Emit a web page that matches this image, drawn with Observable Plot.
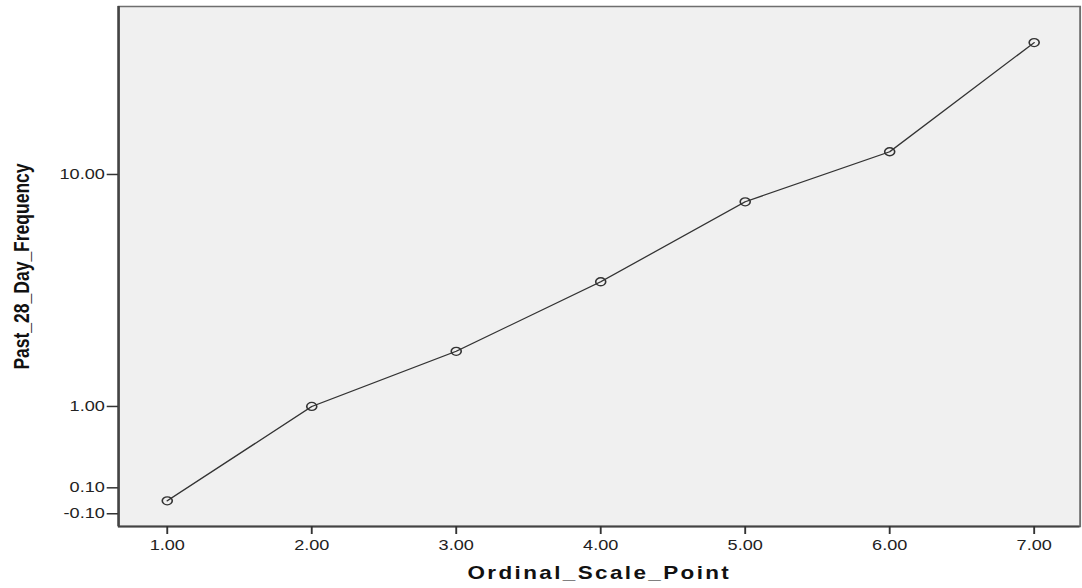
<!DOCTYPE html>
<html><head><meta charset="utf-8">
<script src="https://cdn.jsdelivr.net/npm/d3@7"></script>
<script src="https://cdn.jsdelivr.net/npm/@observablehq/plot@0.6"></script>
<style>body{margin:0;background:#fff;} #chart svg{display:block}</style>
</head><body><div id="chart"></div>
<script>
const scalePoints = [1, 2, 3, 4, 5, 6, 7];
const frequency = [0, 1, 2, 4, 8, 12, 28];
const xTicks = [1, 2, 3, 4, 5, 6, 7];
const yTicks = [-0.1, 0.1, 1, 10];
const xDomain = [0.663, 7.318];
const yDomain = [-0.208, 36.8];
const xTitle = "Ordinal_Scale_Point";
const yTitle = "Past_28_Day_Frequency";

const data = scalePoints.map((x, i) => ({x, y: frequency[i]}));

// The reference is horizontally stretched; draw at a narrower width and stretch.
const STRETCH = 1.25;
const W = 1082, H = 588;
const w = Math.round(W / STRETCH);
const fmt = v => d3.format(".2f")(v).replace("\u2212", "-");

const svg = Plot.plot({
  width: w, height: H,
  marginLeft: 94.4, marginRight: 2, marginTop: 6, marginBottom: 62,
  style: {fontFamily: "'Liberation Sans', Arial, sans-serif", fontSize: "14.5px", color: "#222", background: "#fff"},
  x: {domain: xDomain, label: null},
  y: {type: "symlog", constant: 1, domain: yDomain, label: null},
  marks: [
    Plot.frame({fill: "#f0f0f0", stroke: "#6e6e6e", strokeWidth: 1.5}),
    Plot.ruleX([xDomain[0]], {stroke: "#444", strokeWidth: 2}),
    Plot.ruleY([yDomain[0]], {stroke: "#444", strokeWidth: 2}),
    Plot.axisX({ticks: xTicks, tickFormat: fmt, tickSize: 8, tickPadding: 5, stroke: "#333", strokeWidth: 1.5, label: null}),
    Plot.axisY({ticks: yTicks, tickFormat: fmt, tickSize: 9, tickPadding: 2, stroke: "#333", strokeWidth: 1.5, label: null}),
    Plot.line(data, {x: "x", y: "y", stroke: "#333", strokeWidth: 1.2}),
    Plot.dot(data, {x: "x", y: "y", r: 4, stroke: "#333", fill: "none", strokeWidth: 1.3}),
    Plot.text([xTitle], {text: d => d, frameAnchor: "bottom", textAnchor: "middle", dy: 52, fontWeight: "bold", fontSize: 18, fill: "#111"}),
    Plot.text([yTitle], {text: d => d, frameAnchor: "left", textAnchor: "middle", rotate: -90, dx: -77.4, fontWeight: "bold", fontSize: 17.5, fill: "#111"})
  ]
});

svg.setAttribute("width", W);
svg.setAttribute("height", H);
svg.setAttribute("viewBox", `0 0 ${w} ${H}`);
svg.setAttribute("preserveAspectRatio", "none");
svg.style.width = W + "px";
svg.style.height = H + "px";
svg.style.maxWidth = "none";

d3.select(svg).selectAll("text").each(function() {
  if (this.textContent === xTitle) this.style.letterSpacing = "1.9px";
});

document.getElementById("chart").appendChild(svg);
</script>
</body></html>
